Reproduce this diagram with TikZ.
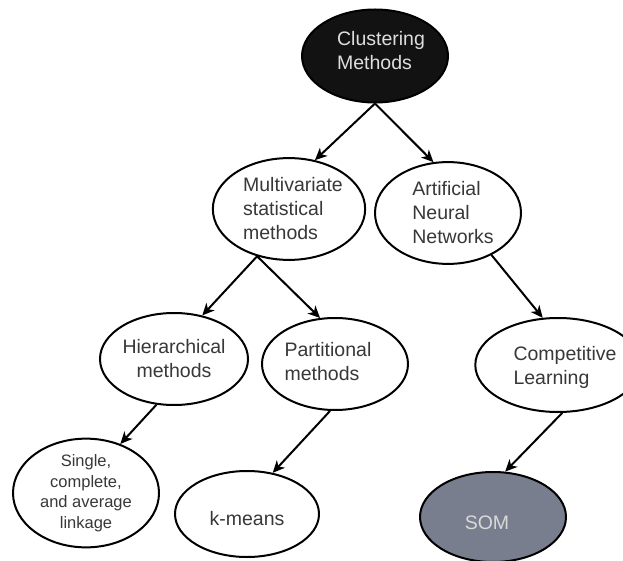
\documentclass[tikz,border=0pt]{standalone}
\usepackage{fontspec}
\setmainfont{Liberation Sans}
\usetikzlibrary{shapes.geometric,arrows.meta}
\definecolor{txt}{HTML}{383838}
\definecolor{somfill}{HTML}{787E8E}
\newcommand{\tbr}[2]{\hspace*{#1}\begin{tabular}{@{}l@{}}#2\end{tabular}}
\newcommand{\tbl}[2]{\begin{tabular}{@{}l@{}}#2\end{tabular}\hspace*{#1}}
\newcommand{\vsh}[2]{\raisebox{#1}[\height][\depth]{#2}}
\tikzset{
  el/.style={ellipse, draw=black, line width=2pt, fill=white, inner sep=0pt,
    align=center, text=txt, font=\fontsize{19.5}{24}\selectfont},
  conn/.style={line width=2pt, -{Stealth[length=12pt,width=11pt,inset=3.5pt]}}
}
\begin{document}
\begin{tikzpicture}[x=1pt,y=-1pt]
\useasboundingbox (0,0) rectangle (623,561);
\node[el, fill=black!93, text=black!13, minimum width=146pt, minimum height=93pt] (cm) at (375,56) {\vsh{3pt}{\tbr{12pt}{Clustering\\Methods}}};
\node[el, minimum width=148pt, minimum height=92pt] (mv) at (289,209) {\vsh{-2pt}{\tbr{8pt}{Multivariate\\statistical\\methods}}};
\node[el, minimum width=146pt, minimum height=90pt] (ann) at (448,213) {\vsh{-2pt}{\tbr{10pt}{Artificial\\Neural\\Networks}}};
\node[el, minimum width=148pt, minimum height=92pt] (hier) at (174,359) {Hierarchical\\methods};
\node[el, minimum width=146pt, minimum height=92pt] (part) at (335,364) {\tbl{14pt}{Partitional\\methods}};
\node[el, minimum width=144pt, minimum height=94pt] (comp) at (558,365) {\vsh{-3pt}{\tbr{14pt}{Competitive\\Learning}}};
\node[el, minimum width=146pt, minimum height=90pt, font=\fontsize{16.5}{20.5}\selectfont] (single) at (86,493) {Single,\\complete,\\and average\\linkage};
\node[el, minimum width=144pt, minimum height=86pt] (km) at (247,514) {\vsh{-5pt}{k-means}};
\node[el, fill=somfill, text=black!15, minimum width=146pt, minimum height=90pt] (som) at (493,517) {\vsh{-8pt}{\tbl{12pt}{SOM}}};
\draw[conn] (cm.south) -- (mv.62);
\draw[conn] (cm.south) -- (ann.106);
\draw[conn] (mv.-124) -- (hier.57);
\draw[conn] (mv.-124) -- (part.108);
\draw[conn] (ann.-44) -- (comp.108);
\draw[conn] (hier.-111) -- (single.55);
\draw[conn] (part.-96) -- (km.58);
\draw[conn] (comp.-85) -- (som.75);
\end{tikzpicture}
\end{document}
